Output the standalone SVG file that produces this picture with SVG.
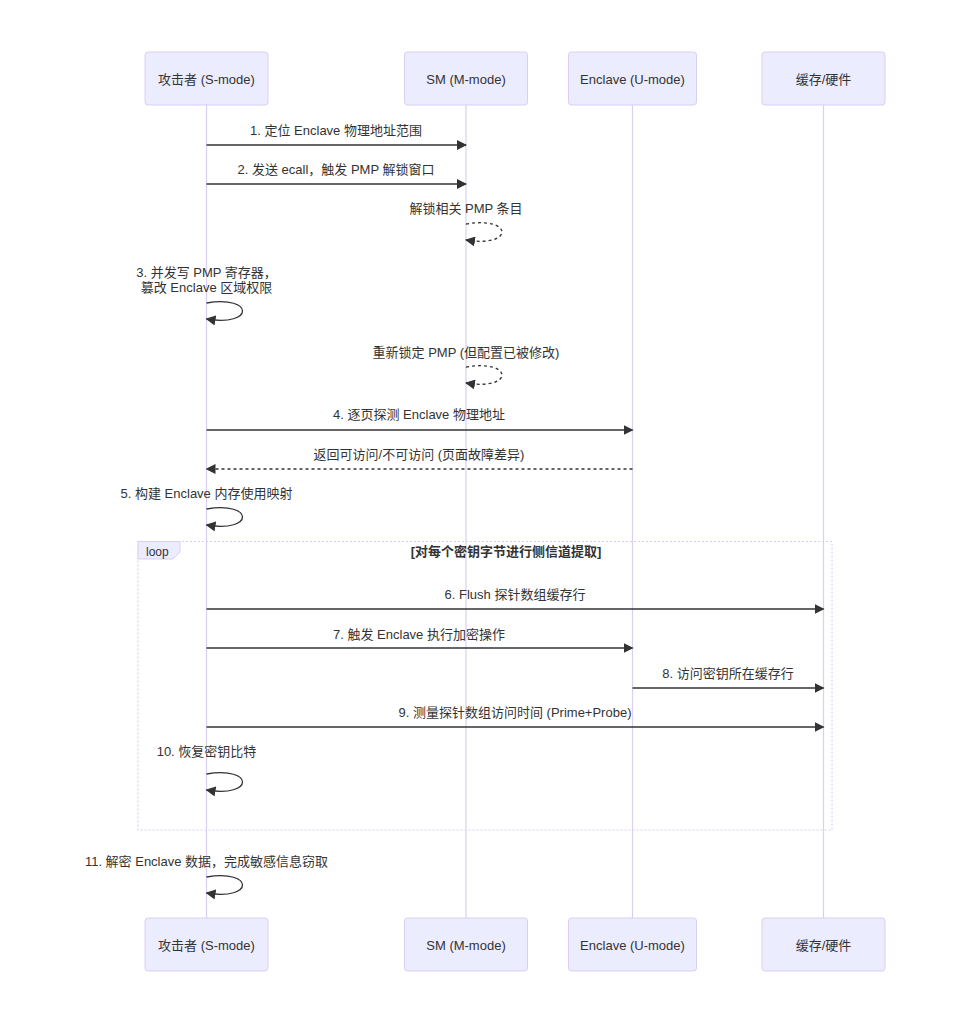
<svg xmlns="http://www.w3.org/2000/svg" width="970" height="1024" viewBox="0 0 970 1024">
<style>
text{font-family:"Liberation Sans","Noto Sans CJK SC",sans-serif;fill:#333;}
.actor{fill:#ECECFF;stroke:#DACEF3;stroke-width:1;}
.atext{font-size:13px;text-anchor:middle;dominant-baseline:central;}
.life{stroke:#DACEF3;stroke-width:1.2;}
.msg{stroke:#333;stroke-width:1.3;fill:none;}
.dash{stroke-dasharray:3,3;}
.mtext{font-size:13px;text-anchor:middle;}
.loopline{stroke:#DACEF3;stroke-width:1.2;fill:none;stroke-dasharray:2,2;}
.lbox{fill:#ECECFF;stroke:#DACEF3;stroke-width:1;}
</style>
<defs>
<marker id="arr" markerUnits="userSpaceOnUse" markerWidth="10" markerHeight="10" refX="9" refY="5" orient="auto" viewBox="0 0 10 10">
<path d="M0,0 L10,5 L0,10 z" fill="#333"/>
</marker>
</defs>
<rect width="970" height="1024" fill="#fff"/>
<g id="lifelines">
<line class="life" x1="206.5" y1="105" x2="206.5" y2="918"/>
<line class="life" x1="466" y1="105" x2="466" y2="918"/>
<line class="life" x1="632.5" y1="105" x2="632.5" y2="918"/>
<line class="life" x1="823.5" y1="105" x2="823.5" y2="918"/>
</g>
<g id="actor-attacker">
<rect class="actor" x="145" y="52" width="123" height="53" rx="3"/>
<text class="atext" x="206.5" y="79">攻击者 (S-mode)</text>
<rect class="actor" x="145" y="918" width="123" height="53" rx="3"/>
<text class="atext" x="206.5" y="945">攻击者 (S-mode)</text>
</g>
<g id="actor-sm">
<rect class="actor" x="404.5" y="52" width="123" height="53" rx="3"/>
<text class="atext" x="466" y="79">SM (M-mode)</text>
<rect class="actor" x="404.5" y="918" width="123" height="53" rx="3"/>
<text class="atext" x="466" y="945">SM (M-mode)</text>
</g>
<g id="actor-enclave">
<rect class="actor" x="568.5" y="52" width="128" height="53" rx="3"/>
<text class="atext" x="632.5" y="79">Enclave (U-mode)</text>
<rect class="actor" x="568.5" y="918" width="128" height="53" rx="3"/>
<text class="atext" x="632.5" y="945">Enclave (U-mode)</text>
</g>
<g id="actor-cache">
<rect class="actor" x="762" y="52" width="123" height="53" rx="3"/>
<text class="atext" x="823.5" y="79">缓存/硬件</text>
<rect class="actor" x="762" y="918" width="123" height="53" rx="3"/>
<text class="atext" x="823.5" y="945">缓存/硬件</text>
</g>
<g id="loop-frame">
<rect class="loopline" x="138" y="541.5" width="694" height="288.5"/>
<polygon class="lbox" points="138,541.5 180,541.5 180,552 173,559 138,559"/>
<text x="146" y="556" style="font-size:12px">loop</text>
<text class="mtext" x="506" y="556" style="font-weight:bold">[对每个密钥字节进行侧信道提取]</text>
</g>
<g id="connectors">
<text class="mtext" x="336" y="135">1. 定位 Enclave 物理地址范围</text>
<line class="msg" x1="206.5" y1="145" x2="466" y2="145" marker-end="url(#arr)"/>
<text class="mtext" x="336" y="174">2. 发送 ecall，触发 PMP 解锁窗口</text>
<line class="msg" x1="206.5" y1="184" x2="466" y2="184" marker-end="url(#arr)"/>
<text class="mtext" x="466" y="213">解锁相关 PMP 条目</text>
<path class="msg dash" d="M466,224 C514,216 514,248 466,240" marker-end="url(#arr)"/>
<text class="mtext" x="206.5" y="277">3. 并发写 PMP 寄存器，</text>
<text class="mtext" x="206.5" y="292">篡改 Enclave 区域权限</text>
<path class="msg" d="M206.5,303 C254.5,295 254.5,327 206.5,319" marker-end="url(#arr)"/>
<text class="mtext" x="466" y="357">重新锁定 PMP (但配置已被修改)</text>
<path class="msg dash" d="M466,367 C514,359 514,391 466,383" marker-end="url(#arr)"/>
<text class="mtext" x="419" y="419">4. 逐页探测 Enclave 物理地址</text>
<line class="msg" x1="206.5" y1="430" x2="632.5" y2="430" marker-end="url(#arr)"/>
<text class="mtext" x="419" y="459">返回可访问/不可访问 (页面故障差异)</text>
<line class="msg dash" x1="632.5" y1="469" x2="206.5" y2="469" marker-end="url(#arr)"/>
<text class="mtext" x="206.5" y="498">5. 构建 Enclave 内存使用映射</text>
<path class="msg" d="M206.5,509 C254.5,501 254.5,533 206.5,525" marker-end="url(#arr)"/>
<text class="mtext" x="515" y="599">6. Flush 探针数组缓存行</text>
<line class="msg" x1="206.5" y1="609" x2="823.5" y2="609" marker-end="url(#arr)"/>
<text class="mtext" x="419" y="639">7. 触发 Enclave 执行加密操作</text>
<line class="msg" x1="206.5" y1="648" x2="632.5" y2="648" marker-end="url(#arr)"/>
<text class="mtext" x="728" y="678">8. 访问密钥所在缓存行</text>
<line class="msg" x1="632.5" y1="688" x2="823.5" y2="688" marker-end="url(#arr)"/>
<text class="mtext" x="515" y="717">9. 测量探针数组访问时间 (Prime+Probe)</text>
<line class="msg" x1="206.5" y1="727" x2="823.5" y2="727" marker-end="url(#arr)"/>
<text class="mtext" x="206.5" y="756">10. 恢复密钥比特</text>
<path class="msg" d="M206.5,774 C254.5,766 254.5,798 206.5,790" marker-end="url(#arr)"/>
<text class="mtext" x="206.5" y="866">11. 解密 Enclave 数据，完成敏感信息窃取</text>
<path class="msg" d="M206.5,877 C254.5,869 254.5,901 206.5,893" marker-end="url(#arr)"/>
</g>
</svg>
